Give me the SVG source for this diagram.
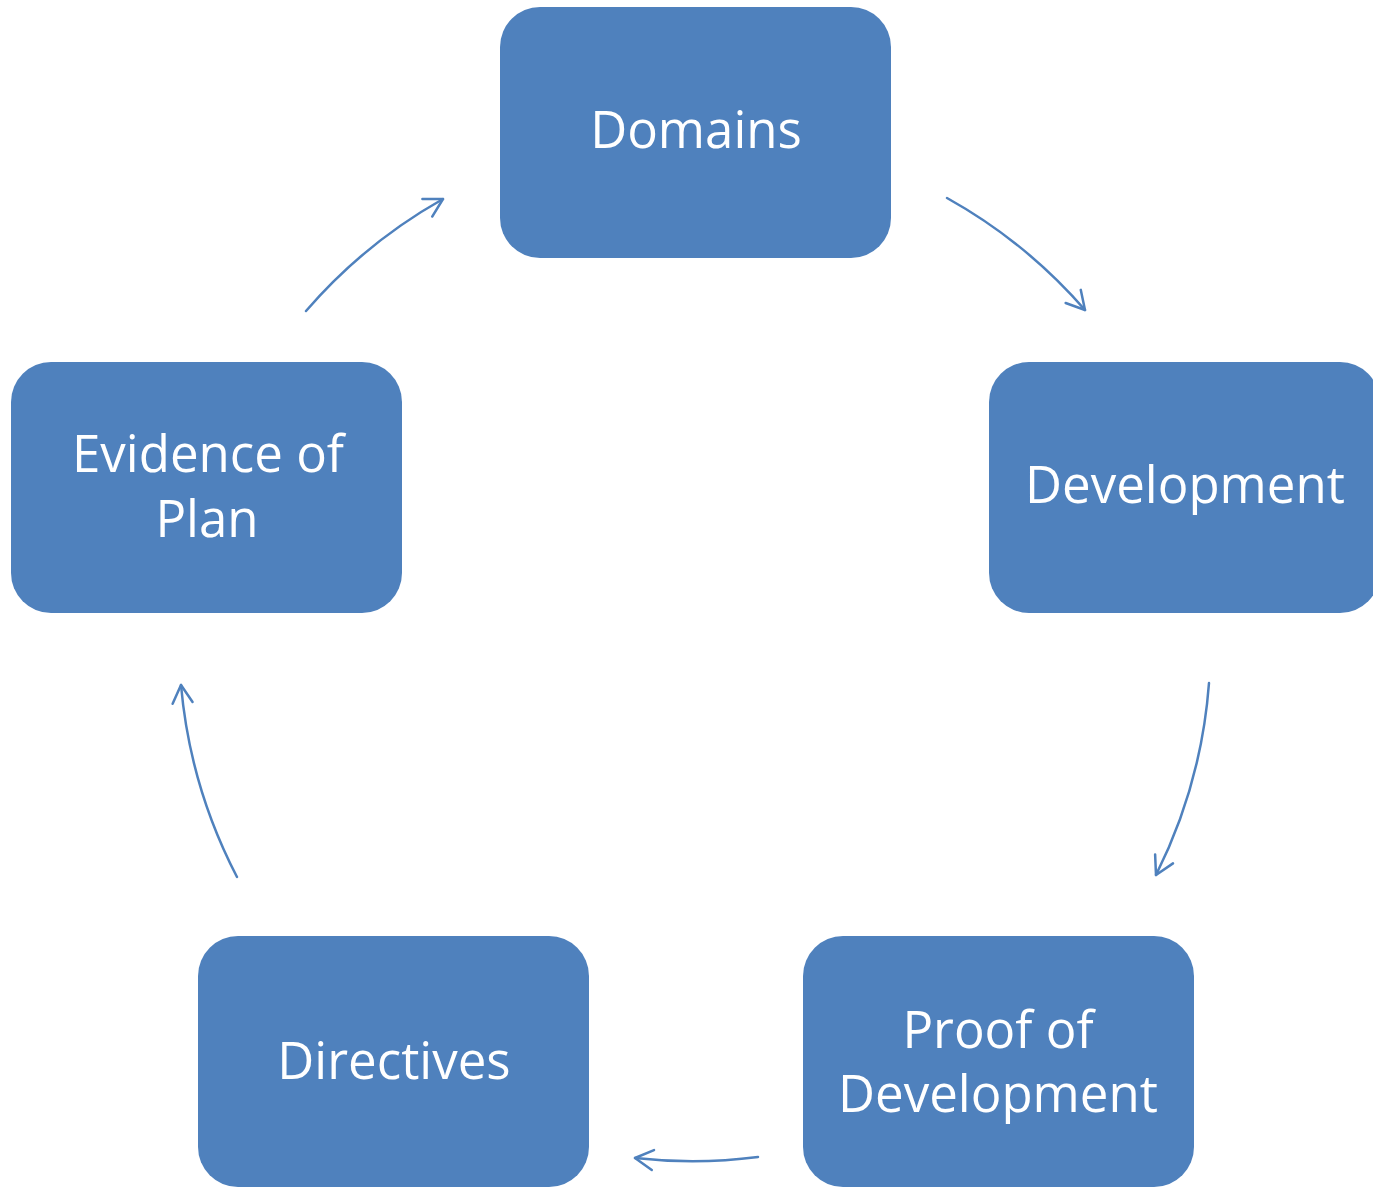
<svg xmlns="http://www.w3.org/2000/svg" width="1373" height="1187" viewBox="0 0 1373 1187">
<defs>
<style>
.box{fill:#4F81BD;}
.lbl{fill:#FFFFFF;font-family:"Open Sans","Noto Sans","Liberation Sans",sans-serif;font-size:51px;text-anchor:middle;}
.conn{fill:none;stroke:#4F81BD;stroke-width:2.5;stroke-linecap:round;}
</style>
<marker id="arr" markerUnits="userSpaceOnUse" markerWidth="30" markerHeight="30" viewBox="-20 -15 25 30" refX="0" refY="0" orient="auto">
<path d="M -18,-10 L 0,0 L -18,10" fill="none" stroke="#4F81BD" stroke-width="2.5" stroke-linecap="round" stroke-linejoin="round"/>
</marker>
</defs>
<rect width="1373" height="1187" fill="#FFFFFF"/>
<g id="connectors">
<path class="conn" d="M 306,311 A 514,514 0 0 1 443,199" marker-end="url(#arr)"/>
<path class="conn" d="M 947,198 A 514,514 0 0 1 1085,310" marker-end="url(#arr)"/>
<path class="conn" d="M 1209,683 A 514,514 0 0 1 1156,875" marker-end="url(#arr)"/>
<path class="conn" d="M 758,1157 A 514,514 0 0 1 635,1158" marker-end="url(#arr)"/>
<path class="conn" d="M 237,877 A 514,514 0 0 1 181,685" marker-end="url(#arr)"/>
</g>
<g id="node-domains">
<rect class="box" x="500" y="7" width="391" height="251" rx="40" ry="40"/>
<text class="lbl" x="696" y="148">Domains</text>
</g>
<g id="node-development">
<rect class="box" x="989" y="362" width="391" height="251" rx="40" ry="40"/>
<text class="lbl" x="1185" y="503">Development</text>
</g>
<g id="node-proof">
<rect class="box" x="803" y="936" width="391" height="251" rx="40" ry="40"/>
<text class="lbl" x="998" y="1048">Proof of</text>
<text class="lbl" x="998" y="1112">Development</text>
</g>
<g id="node-directives">
<rect class="box" x="198" y="936" width="391" height="251" rx="40" ry="40"/>
<text class="lbl" x="394" y="1079">Directives</text>
</g>
<g id="node-evidence">
<rect class="box" x="11" y="362" width="391" height="251" rx="40" ry="40"/>
<text class="lbl" x="208" y="472">Evidence of</text>
<text class="lbl" x="207" y="537">Plan</text>
</g>
</svg>
